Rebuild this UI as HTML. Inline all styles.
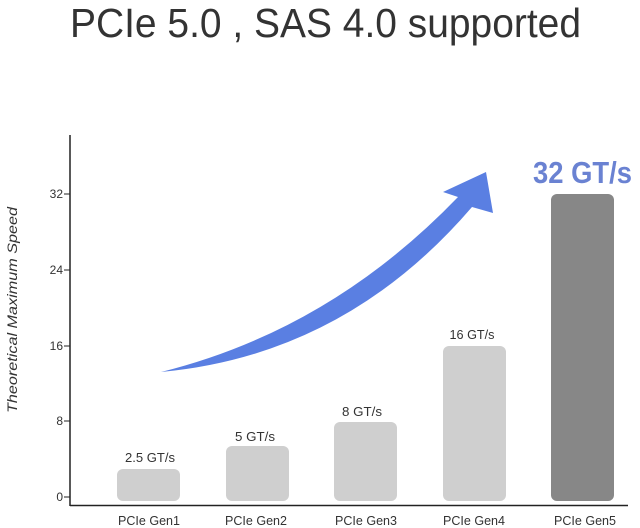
<!DOCTYPE html>
<html><head><meta charset="utf-8"><style>
html,body{margin:0;padding:0;background:#fff;}
svg{display:block;}
text{font-family:"Liberation Sans",sans-serif;}
</style></head><body>
<svg width="640" height="528" viewBox="0 0 640 528" xmlns="http://www.w3.org/2000/svg">
<text x="70" y="37" font-size="41" fill="#333" textLength="511" lengthAdjust="spacingAndGlyphs">PCIe 5.0 , SAS 4.0 supported</text>
<!-- axes -->
<line x1="70" y1="135" x2="70" y2="506" stroke="#222" stroke-width="1.5"/>
<line x1="70" y1="505.5" x2="628" y2="505.5" stroke="#222" stroke-width="1.5"/>
<g stroke="#222" stroke-width="1">
<line x1="64" y1="194" x2="70" y2="194"/><line x1="64" y1="270" x2="70" y2="270"/>
<line x1="64" y1="346" x2="70" y2="346"/><line x1="64" y1="421" x2="70" y2="421"/>
<line x1="64" y1="497" x2="70" y2="497"/>
</g>
<g font-size="12" fill="#333" text-anchor="end">
<text x="63" y="198">32</text><text x="63" y="274">24</text><text x="63" y="350">16</text>
<text x="63" y="425">8</text><text x="63" y="501">0</text>
</g>
<text transform="translate(17,310) rotate(-90)" font-size="14" font-style="italic" fill="#333" text-anchor="middle" textLength="206" lengthAdjust="spacingAndGlyphs">Theoretical Maximum Speed</text>
<!-- bars -->
<g fill="#cfcfcf">
<rect x="117" y="469" width="63" height="32" rx="6"/>
<rect x="226" y="446" width="63" height="55" rx="6"/>
<rect x="334" y="422" width="63" height="79" rx="6"/>
<rect x="443" y="346" width="63" height="155" rx="6"/>
</g>
<rect x="551" y="194" width="63" height="307" rx="6" fill="#878787"/>
<g font-size="13" fill="#333" text-anchor="middle">
<text x="150" y="462" textLength="50" lengthAdjust="spacingAndGlyphs">2.5 GT/s</text>
<text x="255" y="441" textLength="40" lengthAdjust="spacingAndGlyphs">5 GT/s</text>
<text x="362" y="416" textLength="40" lengthAdjust="spacingAndGlyphs">8 GT/s</text>
<text x="472" y="339" textLength="45" lengthAdjust="spacingAndGlyphs">16 GT/s</text>
</g>
<g font-size="13" fill="#333" text-anchor="middle">
<text x="149" y="525" textLength="62" lengthAdjust="spacingAndGlyphs">PCIe Gen1</text>
<text x="256" y="525" textLength="62" lengthAdjust="spacingAndGlyphs">PCIe Gen2</text>
<text x="366" y="525" textLength="62" lengthAdjust="spacingAndGlyphs">PCIe Gen3</text>
<text x="474" y="525" textLength="62" lengthAdjust="spacingAndGlyphs">PCIe Gen4</text>
<text x="585" y="525" textLength="62" lengthAdjust="spacingAndGlyphs">PCIe Gen5</text>
</g>
<!-- arrow -->
<path d="M161,372 Q330,330 458,197 L443,192 L486,172 L493,213 L472,207 Q345,355 161,372 Z" fill="#5a7fe2"/>
<text x="533" y="183" font-size="31" font-weight="bold" fill="#6a82d2" textLength="99" lengthAdjust="spacingAndGlyphs">32 GT/s</text>
</svg>
</body></html>
